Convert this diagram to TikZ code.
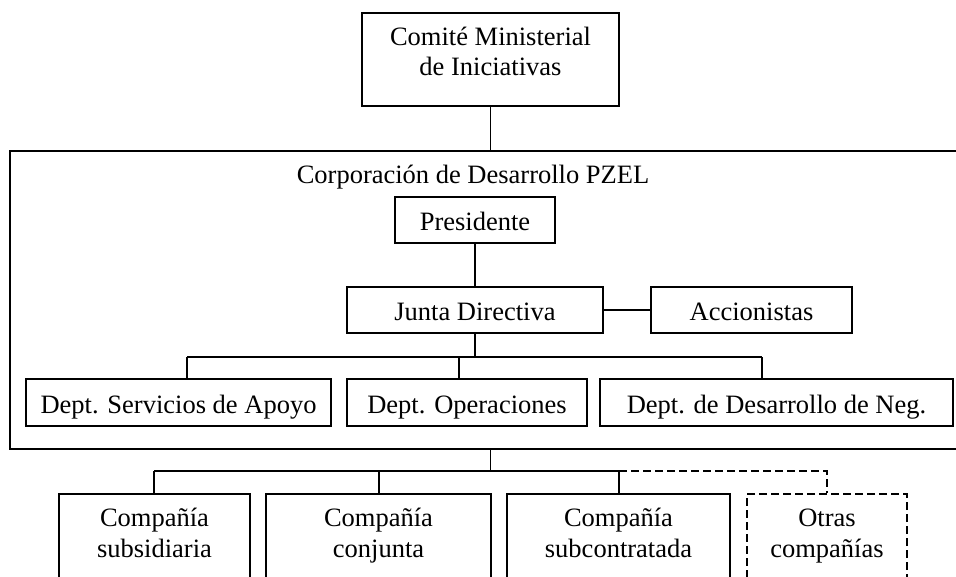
\documentclass[tikz,border=0pt]{standalone}
\usepackage{fontspec}
\setmainfont{Liberation Serif}
\tikzset{
	caja/.style={draw,line width=1.4pt,inner sep=0pt,align=center},
	linea/.style={caja,text height=22pt,text depth=1pt},
	enlace/.style={line width=1.4pt},
	discont/.style={line width=1.4pt,dash pattern=on 8pt off 4pt}
}
\begin{document}
\begin{tikzpicture}[x=1pt,y=-1pt,font=\fontsize{26.5}{30.5}\selectfont]
		\useasboundingbox (0,0) rectangle (956,576);
		\clip (0,0) rectangle (956,576);
		% cajas
		\node[caja,minimum width=257,minimum height=93] (comite) at (490.5,59.5) {Comit\'e Ministerial\\de Iniciativas\rule[-16pt]{0pt}{16pt}};
		\node[caja,line width=2pt,minimum width=952,minimum height=298] (corp) at (486,300) {};
		\node[inner sep=0pt,text height=22pt,text depth=1pt] (titulo) at (473,172.5) {Corporaci\'on de Desarrollo PZEL};
		\node[linea,minimum width=160,minimum height=46] (presidente) at (475,220) {Presidente};
		\node[linea,minimum width=256,minimum height=46] (junta) at (475,310) {Junta Directiva};
		\node[linea,minimum width=201,minimum height=46] (accionistas) at (751.5,310) {Accionistas};
		\node[linea,minimum width=305,minimum height=47] (apoyo) at (178.5,402.5) {Dept. Servicios de Apoyo};
		\node[linea,minimum width=240,minimum height=47] (operaciones) at (467,402.5) {Dept. Operaciones};
		\node[linea,minimum width=353,minimum height=47] (negocios) at (776.5,402.5) {Dept. de Desarrollo de Neg.};
		\node[caja,minimum width=191,minimum height=84] (subsidiaria) at (154.5,536) {\strut Compa\~n\'ia\\subsidiaria\strut};
		\node[caja,minimum width=225,minimum height=84] (conjunta) at (378.5,536) {\strut Compa\~n\'ia\\conjunta\strut};
		\node[caja,minimum width=223,minimum height=84] (subcontratada) at (618.5,536) {\strut Compa\~n\'ia\\subcontratada\strut};
		\node[caja,discont,minimum width=160,minimum height=84] (otras) at (827,536) {\strut Otras\\compa\~n\'ias\strut};
		% conexiones de arriba
		\draw[enlace] (comite.south) -- (comite.south |- corp.north);
		\draw[enlace] (presidente.south) -- (junta.north);
		\draw[enlace] (junta.east) -- (accionistas.west);
		% departamentos
		\coordinate (d1) at (187,357);
		\coordinate (d2) at (459,357);
		\coordinate (d3) at (762,357);
		\draw[enlace] (junta.south) -- (junta.south |- d1);
		\draw[enlace] (d1) -- (d3);
		\draw[enlace] (d1) -- (d1 |- apoyo.north) (d2) -- (d2 |- operaciones.north) (d3) -- (d3 |- negocios.north);
		% companias
		\coordinate (c1) at (154,471);
		\coordinate (c2) at (379,471);
		\coordinate (c3) at (619,471);
		\draw[enlace] (corp.south -| comite.south) -- (comite.south |- c1);
		\draw[enlace] (c1) -- (c3);
		\draw[enlace] (c1) -- (c1 |- subsidiaria.north) (c2) -- (c2 |- conjunta.north) (c3) -- (c3 |- subcontratada.north);
		\draw[discont] (c3) -| (otras.north);
		\end{tikzpicture}
\end{document}
